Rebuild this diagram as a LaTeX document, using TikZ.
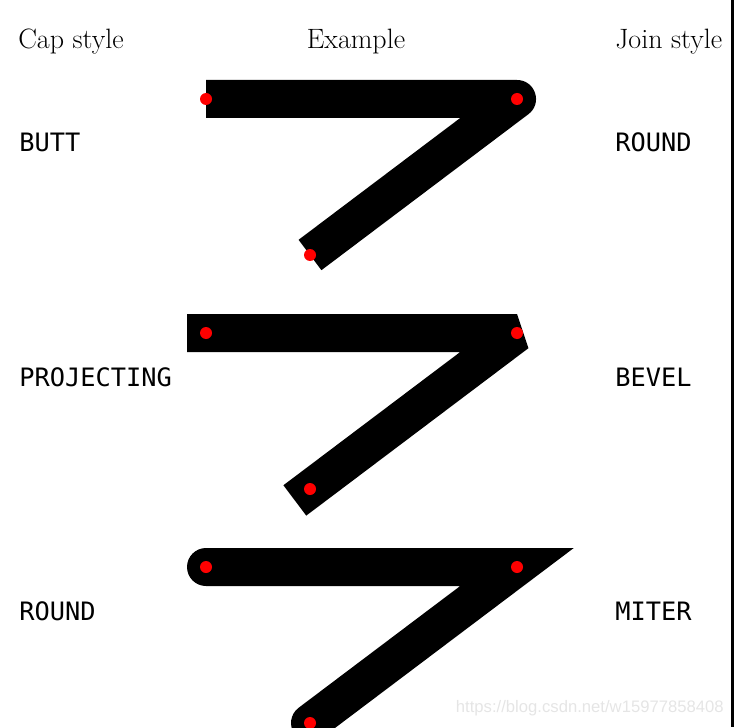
\documentclass[tikz,border=0pt]{standalone}
\usepackage{fontspec}
\newfontfamily\stylemono{DejaVu Sans Mono}
\newfontfamily\marksans{Liberation Sans}
\usetikzlibrary{positioning}

\begin{document}
\begin{tikzpicture}[x=0.75pt, y=-0.75pt,
    headtext/.style={inner sep=0pt, font=\fontsize{21}{25}\selectfont},
    stylelabel/.style={inner sep=0pt, font=\stylemono\fontsize{19}{23}\selectfont},
    sampleline/.style={line width=28.5pt},
    reddot/.style={fill=red, draw=none}]
  \clip (0,0) rectangle (734,727);
  \useasboundingbox (0,0) rectangle (734,727);

  % column headers
  \node[headtext, anchor=base west] (caphead) at (18,49) {Cap style};
  \node[headtext, anchor=base] (examplehead) at (356,49) {Example};
  \node[headtext, anchor=base west] (joinhead) at (615,49) {Join style};

  % cap style names
  \node[stylelabel, anchor=base west] (capbutt) at (19,152) {BUTT};
  \node[stylelabel, below=175.5pt of capbutt.base west, anchor=base west] (capproj) {PROJECTING};
  \node[stylelabel, below=175.5pt of capproj.base west, anchor=base west] (capround) {ROUND};

  % join style names
  \node[stylelabel, anchor=base west] (joinround) at (615,152) {ROUND};
  \node[stylelabel, below=175.5pt of joinround.base west, anchor=base west] (joinbevel) {BEVEL};
  \node[stylelabel, below=175.5pt of joinbevel.base west, anchor=base west] (joinmiter) {MITER};

  % sample polylines
  \foreach \row/\cap/\join in {0/butt/round, 1/rect/bevel, 2/round/miter} {
    \coordinate (s\row) at (206,99+234*\row);
    \coordinate (m\row) at (517,99+234*\row);
    \coordinate (e\row) at (310,255+234*\row);
    \draw[sampleline, line cap=\cap, line join=\join] (s\row) -- (m\row) -- (e\row);
    \foreach \p in {s,m,e}
      \fill[reddot] (\p\row) circle (4.5pt);
  }

  % watermark
  \node[inner sep=0pt, anchor=east, text=black!10, font=\marksans\fontsize{12.5}{14}\selectfont] (mark) at (724,708) {https://blog.csdn.net/w15977858408};

  % right edge
  \fill (731,0) rectangle (734,727);
\end{tikzpicture}
\end{document}
